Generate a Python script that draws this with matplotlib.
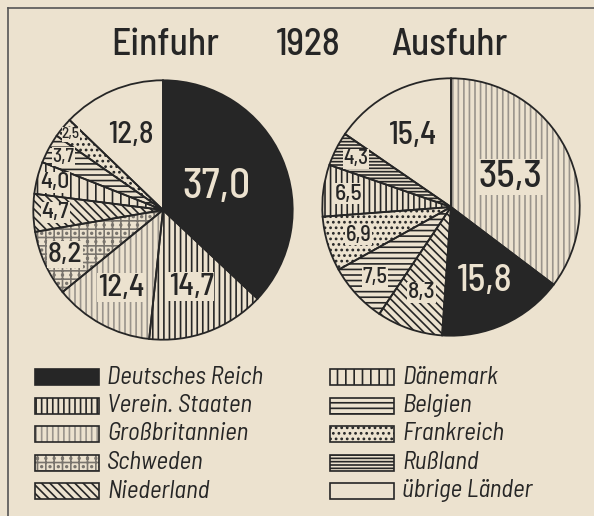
import numpy as np
import matplotlib.pyplot as plt
from matplotlib.patches import Rectangle

plt.rcParams['font.family'] = ['Barlow Semi Condensed', 'DejaVu Sans']
plt.rcParams['hatch.linewidth'] = 1.2

# --- data ---
einfuhr_names = ["Deutsches Reich", "Verein. Staaten", "Großbritannien", "Schweden",
                 "Niederland", "Dänemark", "Belgien", "Frankreich", "übrige Länder"]
einfuhr_values = [37.0, 14.7, 12.4, 8.2, 4.7, 4.0, 3.7, 2.5, 12.8]

ausfuhr_names = ["Großbritannien", "Deutsches Reich", "Niederland", "Belgien",
                 "Frankreich", "Verein. Staaten", "Rußland", "übrige Länder"]
ausfuhr_values = [35.3, 15.8, 8.3, 7.5, 6.9, 6.5, 4.3, 15.4]

legend_left = ["Deutsches Reich", "Verein. Staaten", "Großbritannien", "Schweden", "Niederland"]
legend_right = ["Dänemark", "Belgien", "Frankreich", "Rußland", "übrige Länder"]

# --- styles ---
paper = '#ece2cf'
ink = '#262626'
hatch = {"Deutsches Reich": None, "Verein. Staaten": '|||', "Großbritannien": '|||',
         "Schweden": '++..', "Niederland": '\\\\\\\\', "Dänemark": '||', "Belgien": '---',
         "Frankreich": '...', "Rußland": '-----', "übrige Länder": None}
hatch_col = {"Großbritannien": '#9a948c', "Schweden": '#7a756e'}

# label placement (radius fraction, font size)
einfuhr_lab = [(0.45, 30), (0.63, 22), (0.68, 22), (0.83, 21), (0.83, 17),
               (0.86, 17), (0.87, 14), (0.92, 11), (0.63, 22)]
ausfuhr_lab = [(0.52, 28), (0.63, 27), (0.70, 17), (0.80, 16), (0.75, 16),
               (0.80, 17), (0.83, 15), (0.63, 23)]

W, H = 594, 516
fig = plt.figure(figsize=(W / 100, H / 100), dpi=100, facecolor=paper)

bg = fig.add_axes([0, 0, 1, 1])
bg.set_xlim(0, W)
bg.set_ylim(H, 0)
bg.axis('off')
bg.set_facecolor(paper)

# frame
bg.plot([8, W], [8, 8], color='#555', lw=1.2)
bg.plot([8, 8], [8, H], color='#555', lw=1.2)

# titles
for txt, x in [("Einfuhr", 165), ("1928", 308), ("Ausfuhr", 449)]:
    bg.text(x, 45, txt, fontsize=27, weight='medium', ha='center', va='center', color=ink)


def face(name):
    return ink if name == "Deutsches Reich" else paper


def draw_pie(cx, cy, r, names, values, labs):
    ax = fig.add_axes([(cx - r) / W, (H - cy - r) / H, 2 * r / W, 2 * r / H])
    wedges, _ = ax.pie(values, startangle=90, counterclock=False,
                       colors=[face(n) for n in names],
                       wedgeprops=dict(linewidth=0))
    for w, n in zip(wedges, names):
        if hatch[n]:
            w.set_hatch(hatch[n])
            w.set_edgecolor(hatch_col.get(n, ink))
    ax.pie(values, startangle=90, counterclock=False,
           wedgeprops=dict(facecolor='none', edgecolor=ink, linewidth=1.3))
    for w, n, v, (rr, fs) in zip(wedges, names, values, labs):
        ang = np.deg2rad((w.theta1 + w.theta2) / 2)
        col = paper if n == "Deutsches Reich" else ink
        box = None
        if hatch[n]:
            box = dict(boxstyle='square,pad=0.02', fc=paper, ec='none')
        ax.text(rr * np.cos(ang), rr * np.sin(ang), f"{v:.1f}".replace('.', ','),
                ha='center', va='center', fontsize=fs, weight='medium', color=col, bbox=box)
    ax.set_xlim(-1.01, 1.01)
    ax.set_ylim(-1.01, 1.01)


draw_pie(163, 210, 131, einfuhr_names, einfuhr_values, einfuhr_lab)
draw_pie(451, 207, 130, ausfuhr_names, ausfuhr_values, ausfuhr_lab)


# legend
def legend_col(names, x0, y0):
    for i, n in enumerate(names):
        y = y0 + i * 28.5
        bg.add_patch(Rectangle((x0, y - 8), 64, 16, facecolor=face(n),
                               edgecolor=hatch_col.get(n, ink), hatch=hatch[n], lw=0))
        bg.add_patch(Rectangle((x0, y - 8), 64, 16, facecolor='none',
                               edgecolor=ink, lw=1.2))
        bg.text(x0 + 72, y, n, fontsize=18, style='italic', ha='left',
                va='center', color=ink)


legend_col(legend_left, 35, 377)
legend_col(legend_right, 330, 377)

fig.savefig('out.png', dpi=100, facecolor=paper)
